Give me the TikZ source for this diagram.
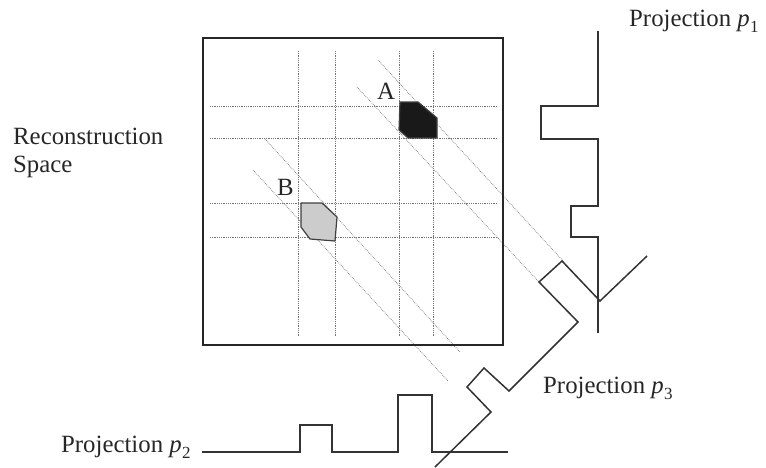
\documentclass[tikz,border=0pt]{standalone}
\usepackage{fontspec}
\setmainfont{Liberation Serif}
\tikzset{
  frame/.style={draw=black!85, line width=1.6pt},
  profile/.style={draw=black!80, line width=1.5pt, line join=miter},
  gridline/.style={draw=black!55, line width=0.7pt, dash pattern=on 0.7pt off 1.1pt},
  rayline/.style={draw=black!55, line width=0.7pt, dash pattern=on 0.7pt off 1.1pt},
  blob/.style={draw=black!75, line width=1.2pt, line join=round},
  lbl/.style={anchor=base west, inner sep=0pt, text=black!85, font=\fontsize{24.8}{28}\selectfont},
}
\newcommand{\projname}[1]{Projection \textit{p}\kern0.5pt\raisebox{-0.28em}{\fontsize{17}{17}\selectfont #1}}
\begin{document}
\begin{tikzpicture}[x=1pt, y=-1pt]
\useasboundingbox (0,0) rectangle (766,467);

% reconstruction grid
\foreach \gx in {298,335,399,433} \draw[gridline] (\gx,51) -- (\gx,337);
\foreach \gy in {106,138,203,237} \draw[gridline] (210,\gy) -- (498,\gy);

% rays along the third projection direction
\draw[rayline] (378,60) -- (565,263);
\draw[rayline] (357,87) -- (539,282);
\draw[rayline] (265,139) -- (460,352);
\draw[rayline] (253,170) -- (448,381);

% objects
\draw[blob, fill=black!90] (400,102) -- (418,102) -- (437,118) -- (437,138) -- (408,138) -- (399,130) -- cycle;
\draw[blob, fill=black!20] (301,203) -- (322,203) -- (337,217) -- (335,241) -- (310,239) -- (301,227) -- cycle;

% reconstruction space frame
\draw[frame] (203,38) rectangle (503,345);

% projection p1 (vertical)
\draw[profile] (598,31) -- (598,106) -- (541,106) -- (541,139) -- (598,139) -- (598,206)
  -- (571,206) -- (571,237) -- (598,237) -- (598,333);

% projection p2 (horizontal)
\draw[profile] (202,452) -- (300,452) -- (300,425) -- (332,425) -- (332,452) -- (398,452)
  -- (398,395) -- (432,395) -- (432,452) -- (508,452);

% projection p3 (diagonal)
\draw[profile] (647,256) -- (600,301) -- (562,261) -- (539,282) -- (578,322) -- (509,391)
  -- (484,368) -- (467,387) -- (491,412) -- (435,467);

% labels
\node[lbl] (la) at (377,99) {A};
\node[lbl] (lb) at (277,195) {B};
\node[lbl, align=left] (rs) at (13,144) {Reconstruction};
\node[lbl] (rs2) at (13,172) {Space};
\node[lbl] (p1) at (629,26) {\projname{1}};
\node[lbl] (p3) at (543,393) {\projname{3}};
\node[lbl] (p2) at (61,452) {\projname{2}};
\end{tikzpicture}
\end{document}
